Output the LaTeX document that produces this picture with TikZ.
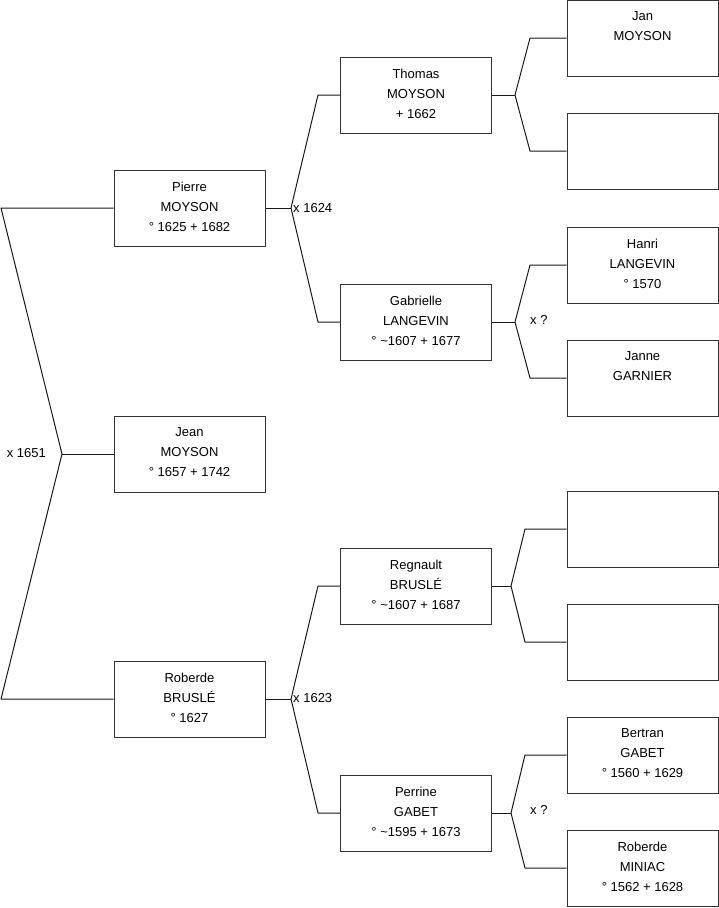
\documentclass[tikz,border=0pt]{standalone}
\usepackage{fontspec}
\setmainfont{Liberation Sans}
\begin{document}
\begin{tikzpicture}[x=1pt,y=-1pt,
  box/.style={draw=black!80,line width=1pt,minimum width=151pt,minimum height=76pt,inner sep=0pt},
  txt/.style={anchor=north,yshift=-12.2pt,inner sep=0pt,align=center,font=\fontsize{13}{20}\selectfont},
  lbl/.style={inner sep=0pt,font=\fontsize{13}{16}\selectfont},
  con/.style={draw=black!90,line width=1pt,line join=round}]
\useasboundingbox (0,0) rectangle (719,908);
% column 1
\node[box] (P) at (189.5,208) {};
\node[txt] at (P.north) {Pierre\\MOYSON\\° 1625 + 1682};
\node[box] (J) at (189.5,454) {};
\node[txt] at (J.north) {Jean\\MOYSON\\° 1657 + 1742};
\node[box] (R) at (189.5,699) {};
\node[txt] at (R.north) {Roberde\\BRUSLÉ\\° 1627};
% column 2
\node[box] (T) at (416,95) {};
\node[txt] at (T.north) {Thomas\\MOYSON\\+ 1662};
\node[box] (G) at (416,322) {};
\node[txt] at (G.north) {Gabrielle\\LANGEVIN\\° \textasciitilde1607 + 1677};
\node[box] (Rg) at (416,586) {};
\node[txt] at (Rg.north) {Regnault\\BRUSLÉ\\° \textasciitilde1607 + 1687};
\node[box] (Pe) at (416,813) {};
\node[txt] at (Pe.north) {Perrine\\GABET\\° \textasciitilde1595 + 1673};
% column 3
\node[box] (Ja) at (642.5,38) {};
\node[txt] at (Ja.north) {Jan\\MOYSON};
\node[box] (E1) at (642.5,151) {};
\node[box] (H) at (642.5,265) {};
\node[txt] at (H.north) {Hanri\\LANGEVIN\\° 1570};
\node[box] (Jn) at (642.5,378) {};
\node[txt] at (Jn.north) {Janne\\GARNIER};
\node[box] (E2) at (642.5,529) {};
\node[box] (E3) at (642.5,642) {};
\node[box] (B) at (642.5,755) {};
\node[txt] at (B.north) {Bertran\\GABET\\° 1560 + 1629};
\node[box] (M) at (642.5,868) {};
\node[txt] at (M.north) {Roberde\\MINIAC\\° 1562 + 1628};
% coordinates
\coordinate (a1) at (1,208);
\coordinate (f0) at (62,454);
\coordinate (a2) at (1,699);
\coordinate (f1) at (291,208);
\coordinate (b1) at (318,95);
\coordinate (b2) at (318,322);
\coordinate (f2) at (291,699);
\coordinate (b3) at (318,586);
\coordinate (b4) at (318,813);
\coordinate (f3) at (515,95);
\coordinate (c1) at (530,38);
\coordinate (c2) at (530,151);
\coordinate (f4) at (515,322);
\coordinate (c3) at (530,265);
\coordinate (c4) at (530,378);
\coordinate (f5) at (511,586);
\coordinate (c5) at (525,529);
\coordinate (c6) at (525,642);
\coordinate (f6) at (511,813);
\coordinate (c7) at (525,755);
\coordinate (c8) at (525,868);
% connectors
\draw[con] (P.west) -- (a1) -- (f0) -- (a2) -- (R.west);
\draw[con] (f0) -- (J.west);
\draw[con] (P.east) -- (f1);
\draw[con] (T.west) -- (b1) -- (f1) -- (b2) -- (G.west);
\draw[con] (R.east) -- (f2);
\draw[con] (Rg.west) -- (b3) -- (f2) -- (b4) -- (Pe.west);
\draw[con] (T.east) -- (f3);
\draw[con] (Ja.west) -- (c1) -- (f3) -- (c2) -- (E1.west);
\draw[con] (G.east) -- (f4);
\draw[con] (H.west) -- (c3) -- (f4) -- (c4) -- (Jn.west);
\draw[con] (Rg.east) -- (f5);
\draw[con] (E2.west) -- (c5) -- (f5) -- (c6) -- (E3.west);
\draw[con] (Pe.east) -- (f6);
\draw[con] (B.west) -- (c7) -- (f6) -- (c8) -- (M.west);
% labels
\node[lbl,anchor=east] (l0) at (46,453) {x 1651};
\node[lbl,anchor=west] (l1) at (293,208) {x 1624};
\node[lbl,anchor=west] (l2) at (293,698) {x 1623};
\node[lbl,anchor=west] (l3) at (530,320) {x ?};
\node[lbl,anchor=west] (l4) at (530,810) {x ?};
\end{tikzpicture}
\end{document}
